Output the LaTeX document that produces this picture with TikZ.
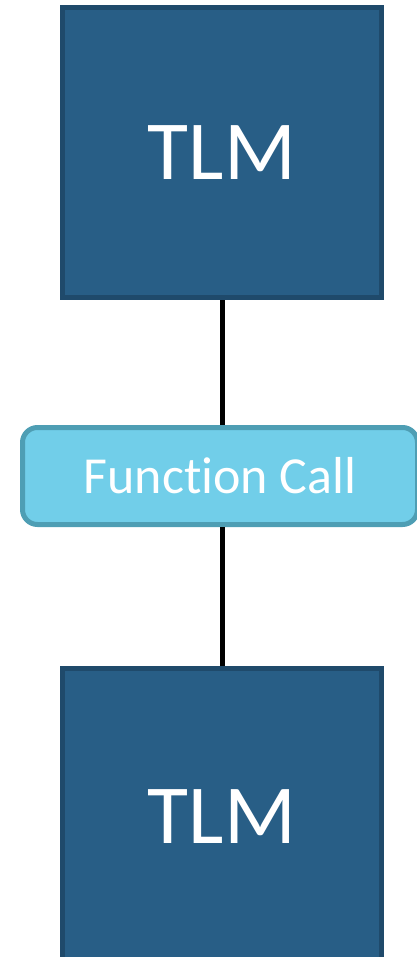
\documentclass[tikz,border=0pt]{standalone}
\usepackage{fontspec}
\setmainfont[Ligatures=NoCommon]{Carlito}
\definecolor{tlmfill}{HTML}{285E86}
\definecolor{tlmedge}{HTML}{1F4A6B}
\definecolor{callfill}{HTML}{71CEE9}
\definecolor{calledge}{HTML}{4E9EB4}
\tikzset{
  tlmbox/.style={draw=tlmedge, fill=tlmfill, line width=5pt,
    minimum width=319pt, minimum height=289.5pt, text=white,
    font=\fontsize{84}{90}\selectfont, inner sep=0pt},
  callbox/.style={draw=calledge, fill=callfill, line width=5pt, rounded corners=15pt,
    minimum width=395pt, minimum height=97pt, text=white,
    font=\fontsize{52}{58}\selectfont, inner sep=0pt},
  wire/.style={line width=5pt, black}
}
\begin{document}
\begin{tikzpicture}[x=1pt, y=1pt]
  \useasboundingbox (0,0) rectangle (417,-957);
  \node[tlmbox] (top) at (222,-152.75) {TLM};
  \node[callbox] (call) at (220,-476) {Function Call};
  \node[tlmbox, minimum height=295.5pt] (bot) at (222,-816.25) {TLM};
  % vertical wires from the boxes to the call label
  \draw[wire] (top.south) -- (top.south |- call.north);
  \draw[wire] (bot.north |- call.south) -- (bot.north);
\end{tikzpicture}
\end{document}
